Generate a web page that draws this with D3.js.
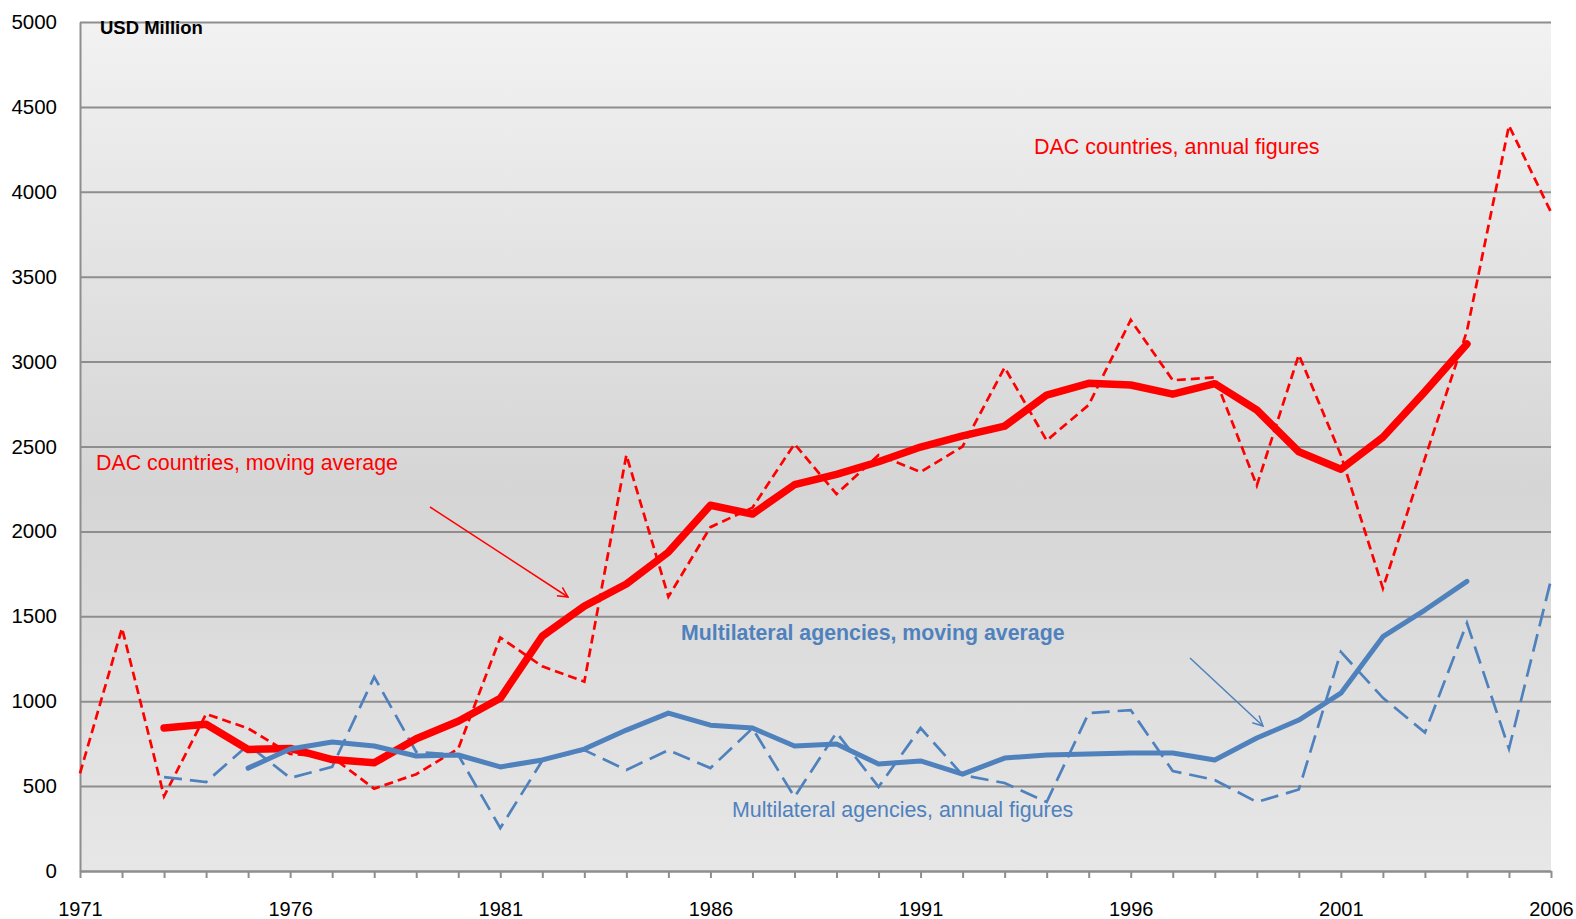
<html>
  <script src="https://cdnjs.cloudflare.com/ajax/libs/d3/7.8.5/d3.min.js"></script>
  <style>
    html, body {
      margin: 0px;
      padding: 0px;
      background: #ffffff;
    }
    text {
      font-family: "Liberation Sans", Arial, sans-serif;
    }
  </style>
  <body>
    <div id="chart"></div>
    <script>
      // values, USD million
      var dacAnnualStart = 1971;
      var dacAnnual = [575, 1430, 440, 925, 840, 690, 670, 485, 570, 720,
                       1375, 1205, 1115, 2450, 1615, 2025, 2140, 2515, 2220, 2450,
                       2350, 2500, 2965, 2535, 2745, 3245, 2890, 2907, 2270, 3040,
                       2450, 1665, 2430, 3180, 4390, 3880];

      var dacAvgStart = 1973;
      var dacAvg = [842, 864, 716, 722, 656, 637, 779, 882, 1017, 1383,
                    1560, 1690, 1878, 2154, 2102, 2275, 2336, 2410, 2497, 2562,
                    2620, 2803, 2872, 2862, 2808, 2870, 2715, 2469, 2366, 2554,
                    2823, 3104];

      var mlAnnualStart = 1973;
      var mlAnnual = [553, 524, 742, 548, 613, 1143, 701, 683, 253, 650,
                      712, 595, 712, 606, 840, 436, 815, 495, 842, 565,
                      518, 406, 930, 948, 589, 536, 406, 480, 1290, 1020,
                      815, 1460, 720, 1715];

      var mlAvgStart = 1975;
      var mlAvg = [606, 718, 760, 736, 677, 683, 613, 654, 718, 830,
                   930, 859, 842, 736, 748, 630, 648, 571, 665, 683,
                   689, 695, 695, 654, 783, 889, 1047, 1380, 1537, 1706];

      var yTicks = [0, 500, 1000, 1500, 2000, 2500, 3000, 3500, 4000, 4500, 5000];
      var xLabelYears = [1971, 1976, 1981, 1986, 1991, 1996, 2001, 2006];

      var red = "#ff0000";
      var blue = "#4f81bd";
      var grid = "#8e8e8e";

      var width = 1576, height = 919;
      var plotLeft = 80, plotRight = 1551, plotTop = 22, plotBottom = 871;

      var x = d3.scaleLinear().domain([1971, 2006]).range([plotLeft, plotRight]);
      var y = d3.scaleLinear().domain([0, 5000]).range([plotBottom, plotTop]);

      var svg = d3.select("#chart").append("svg")
        .attr("width", width)
        .attr("height", height);

      var defs = svg.append("defs");
      var grad = defs.append("linearGradient")
        .attr("id", "bg")
        .attr("x1", 0).attr("y1", 0).attr("x2", 0).attr("y2", 1);
      grad.append("stop").attr("offset", "0%").attr("stop-color", "#f2f2f2");
      grad.append("stop").attr("offset", "55%").attr("stop-color", "#d5d5d5");
      grad.append("stop").attr("offset", "100%").attr("stop-color", "#e7e7e7");

      function arrowMarker(id, color) {
        defs.append("marker")
          .attr("id", id)
          .attr("viewBox", "0 0 12 12")
          .attr("refX", 11).attr("refY", 6)
          .attr("markerWidth", 12).attr("markerHeight", 12)
          .attr("markerUnits", "userSpaceOnUse")
          .attr("orient", "auto")
          .append("path")
            .attr("d", "M1,1 L11,6 L1,11")
            .attr("fill", "none")
            .attr("stroke", color)
            .attr("stroke-width", 1.5);
      }
      arrowMarker("arrowRed", red);
      arrowMarker("arrowBlue", blue);

      svg.append("rect")
        .attr("x", plotLeft).attr("y", plotTop)
        .attr("width", plotRight - plotLeft).attr("height", plotBottom - plotTop)
        .attr("fill", "url(#bg)");

      // horizontal gridlines
      svg.append("g")
        .attr("transform", "translate(" + plotLeft + ",0)")
        .call(d3.axisLeft(y).tickValues(yTicks).tickSize(-(plotRight - plotLeft)).tickFormat(""))
        .call(g => g.select(".domain").remove())
        .call(g => g.selectAll("line").attr("stroke", grid).attr("stroke-width", 2));

      // y axis labels
      svg.append("g")
        .attr("transform", "translate(" + plotLeft + ",0)")
        .call(d3.axisLeft(y).tickValues(yTicks).tickSize(0).tickPadding(23).tickFormat(d3.format("d")))
        .call(g => g.select(".domain").attr("stroke", grid).attr("stroke-width", 2))
        .call(g => g.selectAll("text")
          .attr("fill", "#000")
          .style("font-size", "20.5px")
          .style("font-family", "'Liberation Sans', Arial, sans-serif"));

      // x axis with a tick every year
      var years = d3.range(1971, 2007);
      svg.append("g")
        .attr("transform", "translate(0," + plotBottom + ")")
        .call(d3.axisBottom(x).tickValues(years).tickSize(7).tickSizeOuter(0)
          .tickPadding(24)
          .tickFormat(d => xLabelYears.indexOf(d) >= 0 ? d : ""))
        .call(g => g.select(".domain").attr("stroke", grid).attr("stroke-width", 2))
        .call(g => g.selectAll("line").attr("stroke", grid).attr("stroke-width", 2))
        .call(g => g.selectAll("text")
          .attr("fill", "#000")
          .style("font-size", "20px")
          .style("font-family", "'Liberation Sans', Arial, sans-serif"));

      function series(values, start) {
        return values.map((v, i) => ({ year: start + i, value: v }));
      }

      var line = d3.line()
        .x(d => x(d.year))
        .y(d => y(d.value));

      svg.append("path")
        .datum(series(dacAnnual, dacAnnualStart))
        .attr("d", line)
        .attr("fill", "none")
        .attr("stroke", red)
        .attr("stroke-width", 2.7)
        .attr("stroke-dasharray", "9,5");

      svg.append("path")
        .datum(series(mlAnnual, mlAnnualStart))
        .attr("d", line)
        .attr("fill", "none")
        .attr("stroke", blue)
        .attr("stroke-width", 2.7)
        .attr("stroke-dasharray", "18,8");

      svg.append("path")
        .datum(series(dacAvg, dacAvgStart))
        .attr("d", line)
        .attr("fill", "none")
        .attr("stroke", red)
        .attr("stroke-width", 7.5)
        .attr("stroke-linejoin", "round")
        .attr("stroke-linecap", "round");

      svg.append("path")
        .datum(series(mlAvg, mlAvgStart))
        .attr("d", line)
        .attr("fill", "none")
        .attr("stroke", blue)
        .attr("stroke-width", 5)
        .attr("stroke-linejoin", "round")
        .attr("stroke-linecap", "round");

      // annotations
      svg.append("text")
        .attr("x", 100).attr("y", 34)
        .style("font-size", "18.5px")
        .style("font-weight", "bold")
        .attr("fill", "#000")
        .text("USD Million");

      svg.append("text")
        .attr("x", 1034).attr("y", 154)
        .style("font-size", "21.5px")
        .attr("fill", red)
        .text("DAC countries, annual figures");

      svg.append("text")
        .attr("x", 96).attr("y", 470)
        .style("font-size", "21.4px")
        .attr("fill", red)
        .text("DAC countries, moving average");

      svg.append("text")
        .attr("x", 681).attr("y", 640)
        .style("font-size", "21.3px")
        .style("font-weight", "bold")
        .attr("fill", blue)
        .text("Multilateral agencies, moving average");

      svg.append("text")
        .attr("x", 732).attr("y", 817)
        .style("font-size", "21.4px")
        .attr("fill", blue)
        .text("Multilateral agencies, annual figures");

      svg.append("line")
        .attr("x1", 430).attr("y1", 507)
        .attr("x2", 568).attr("y2", 597)
        .attr("stroke", red)
        .attr("stroke-width", 1.5)
        .attr("marker-end", "url(#arrowRed)");

      svg.append("line")
        .attr("x1", 1190).attr("y1", 658)
        .attr("x2", 1263).attr("y2", 726)
        .attr("stroke", blue)
        .attr("stroke-width", 1.5)
        .attr("marker-end", "url(#arrowBlue)");
    </script>
  </body>
</html>
